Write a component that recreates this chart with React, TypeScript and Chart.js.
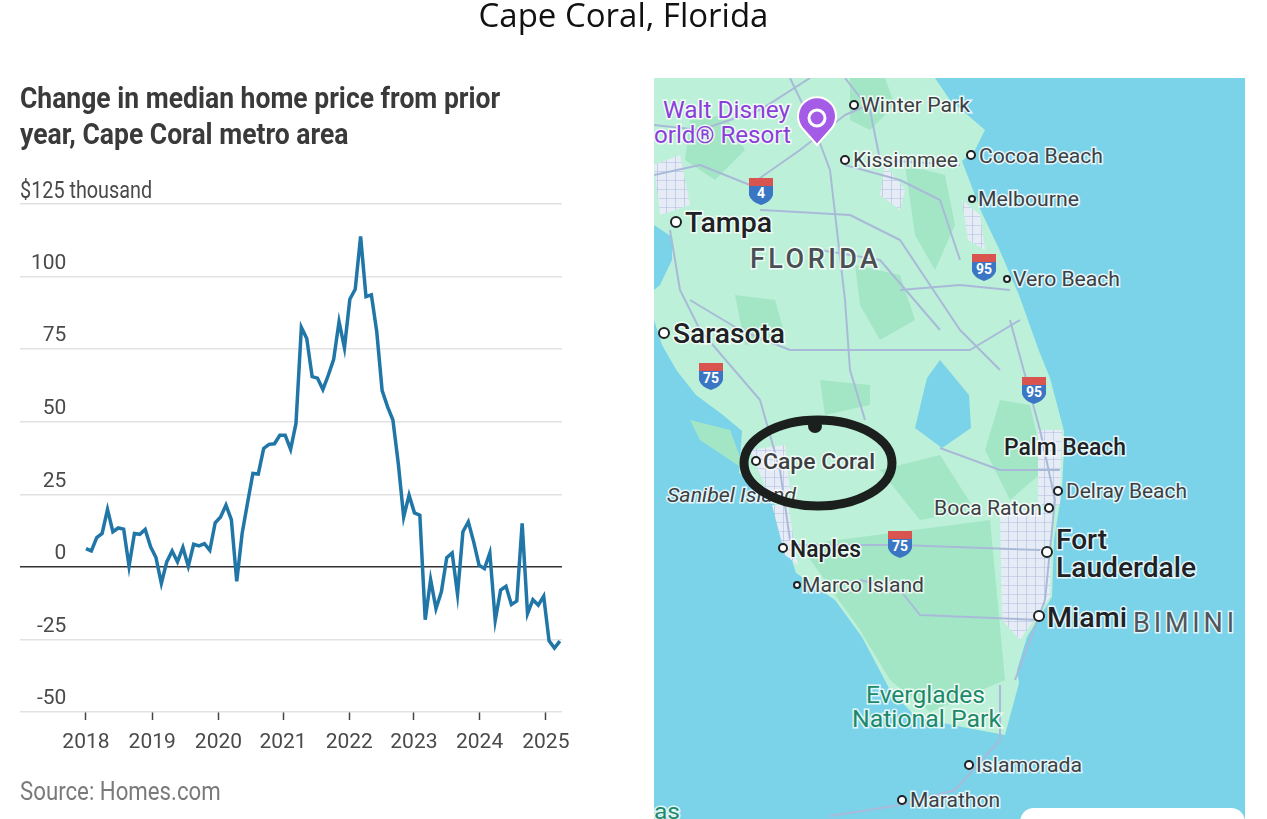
import React, { useEffect, useRef } from "react";
import { Chart, registerables } from "chart.js";

Chart.register(...registerables);

const yearLabels = ["2018", "2019", "2020", "2021", "2022", "2023", "2024", "2025"];
const yearTickMonths = [0, 12.3, 24.6, 36.6, 48.9, 60.9, 73.1, 85.4];
const yTicks = [-50, -25, 0, 25, 50, 75, 100, 125];
const priceChange = [
  6.3, 5.5, 10.1, 11.5, 19.8, 12.1, 13.4, 13.0, 0.2, 11.5, 11.2, 12.9,
  6.9, 3.2, -5.7, 1.7, 5.5, 1.7, 6.7, 0.2, 7.8, 7.2, 8.0, 5.7,
  15.2, 17.2, 21.3, 16.3, -5.0, 11.5, 22, 32.2, 32, 40.8, 42.2, 42.4,
  45.3, 45.3, 40.5, 49.4, 82.5, 78.7, 65.5, 65, 61.1, 66, 71.5, 84.5,
  75.5, 92.2, 95.6, 113.8, 93.1, 93.7, 81, 60.7, 55.2, 50.6, 35.6, 17.2,
  24.7, 18.6, 17.8, -18.2, -4.4, -14.4, -8.6, 3.2, 4.8, -9.4, 12.1, 15.5,
  8.6, 0.6, -0.6, 4.8, -18.4, -8, -6.7, -13, -11.8, 15, -16.1, -11.3,
  -13.2, -10.1, -25.5, -28, -25.6,
];

const sans = "Roboto, sans-serif";

const land = "654,78 935,78 950,100 985,130 975,150 962,161 981,211 1000,251 1019,295 1039,351 1050,378 1064,431 1064,450 1062,490 1054,540 1052,597 1027,637 1017,670 1019,683 1005,735 962,727 916,717 890,690 862,637 835,600 796,573 781,527 773,500 739,473 742,431 723,415 696,395 677,371 662,345 654,320 654,290 660,285 672,260 672,237 654,225";
const lake = "940,360 969,395 971,428 942,448 915,428 927,378";
const greenPatches = [
  "850,78 885,78 895,105 870,130 850,120",
  "690,120 725,115 745,150 715,180 685,160",
  "905,165 945,175 955,225 935,270 915,235",
  "855,265 900,275 915,320 880,340 860,305",
  "1000,400 1030,405 1045,470 1010,500 985,450",
  "880,470 940,455 975,510 920,520",
  "800,545 990,520 1005,680 930,712 890,680 860,630",
  "735,295 775,300 785,335 745,345",
  "820,380 870,385 870,405 825,415",
  "690,420 730,430 745,470 700,440",
];
const urbanPatches = [
  "654,165 680,155 690,205 660,215",
  "885,165 905,190 900,210 880,195",
  "962,200 980,215 985,250 968,240",
  "1000,510 1052,510 1050,597 1020,640 1002,620",
  "1038,430 1062,430 1060,505 1038,505",
  "750,450 785,445 790,490 770,498",
  "772,505 788,505 798,565 785,555",
];
const roads = [
  "654,175 700,165 750,185 800,150 845,115 880,100",
  "790,78 815,130 830,170 845,300 850,370 865,420",
  "845,165 900,180 940,200 960,260",
  "760,210 850,215 900,240 960,330 1000,370",
  "670,230 680,290 700,330 760,400 780,470 790,540",
  "690,300 740,330 790,350 970,350 1020,320",
  "820,250 880,260 940,330",
  "790,545 900,545 1040,550",
  "860,580 900,590 920,615 1040,620",
  "1010,320 1040,430 1055,500 1045,600 1015,680",
  "1000,685 1000,740 955,790 900,805 830,816",
  "940,448 1000,470 1060,470",
  "654,125 700,130 760,110 810,78",
  "845,78 870,110 880,160 960,165",
  "900,290 960,285 1010,290",
];
const mapLabels = [
  { text: "Winter Park", x: 861, y: 112, w: 109, s: 20, c: "#3c4043", dot: [854, 105, 4] },
  { text: "Kissimmee", x: 853, y: 167, w: 105, s: 20, c: "#3c4043", dot: [845, 160, 4] },
  { text: "Cocoa Beach", x: 979, y: 163, w: 124, s: 20, c: "#3c4043", dot: [971, 155, 4] },
  { text: "Melbourne", x: 978, y: 206, w: 101, s: 20, c: "#3c4043", dot: [972, 199, 3] },
  { text: "Tampa", x: 685, y: 232, w: 87, s: 27, c: "#202124", dot: [676, 222, 5], wt: 500 },
  { text: "Vero Beach", x: 1013, y: 286, w: 107, s: 20, c: "#3c4043", dot: [1007, 279, 3] },
  { text: "Sarasota", x: 673, y: 343, w: 112, s: 27, c: "#202124", dot: [664, 333, 5], wt: 500 },
  { text: "Palm Beach", x: 1004, y: 455, w: 122, s: 23, c: "#202124", wt: 500 },
  { text: "Cape Coral", x: 763, y: 469, w: 112, s: 22, c: "#3c4043", dot: [756, 461, 4], wt: 500 },
  { text: "Delray Beach", x: 1066, y: 498, w: 121, s: 20, c: "#3c4043", dot: [1058, 491, 4] },
  { text: "Boca Raton", x: 934, y: 515, w: 108, s: 20, c: "#3c4043", dot: [1049, 508, 4] },
  { text: "Naples", x: 790, y: 557, w: 71, s: 23, c: "#202124", dot: [783, 548, 4], wt: 500 },
  { text: "Marco Island", x: 802, y: 592, w: 122, s: 20, c: "#3c4043", dot: [797, 585, 3] },
  { text: "Fort", x: 1056, y: 549, w: 51, s: 28, c: "#202124", dot: [1047, 552, 5], wt: 500 },
  { text: "Lauderdale", x: 1056, y: 577, w: 140, s: 28, c: "#202124", wt: 500 },
  { text: "Miami", x: 1047, y: 627, w: 80, s: 28, c: "#202124", dot: [1039, 616, 5], wt: 500 },
  { text: "BIMINI", x: 1133, y: 632, w: 101, s: 27, c: "#50555a", spaced: true },
  { text: "FLORIDA", x: 750, y: 268, w: 128, s: 27, c: "#4a4f54", wt: 500, spaced: true },
  { text: "Everglades", x: 866, y: 703, w: 119, s: 23, c: "#1c8a68" },
  { text: "National Park", x: 852, y: 727, w: 149, s: 23, c: "#1c8a68" },
  { text: "Islamorada", x: 976, y: 772, w: 106, s: 20, c: "#3c4043", dot: [969, 765, 4] },
  { text: "Marathon", x: 910, y: 807, w: 90, s: 20, c: "#3c4043", dot: [902, 800, 4] },
  { text: "Walt Disney", x: 663, y: 118, w: 127, s: 24, c: "#8b3fd9" },
  { text: "orld® Resort", x: 654, y: 143, w: 137, s: 24, c: "#8b3fd9" },
  { text: "as", x: 654, y: 819, w: 26, s: 22, c: "#1c8a68" },
];
const shields = [
  { n: "4", x: 761, y: 191 },
  { n: "95", x: 984, y: 267 },
  { n: "95", x: 1034, y: 390 },
  { n: "75", x: 711, y: 376 },
  { n: "75", x: 900, y: 544 },
];

function MapPanel() {
  return (
    <svg width={1267} height={819} style={{ position: "absolute", left: 0, top: 0 }}>
      <defs>
        <clipPath id="mapclip"><rect x={654} y={78} width={591} height={741} /></clipPath>
        <pattern id="citygrid" width={9} height={9} patternUnits="userSpaceOnUse">
          <rect width={9} height={9} fill="#e6ecf6" />
          <path d="M0 0 H9 M0 0 V9" stroke="#aebbdf" strokeWidth={1.2} />
        </pattern>
      </defs>
      <g clipPath="url(#mapclip)">
        <rect x={654} y={78} width={591} height={741} fill="#7ad3e9" />
        <polygon points={land} fill="#bdf0d8" />
        {greenPatches.map((p, i) => <polygon key={i} points={p} fill="#a3e6c5" />)}
        {urbanPatches.map((p, i) => <polygon key={i} points={p} fill="url(#citygrid)" />)}
        <polygon points={lake} fill="#7ad3e9" />
        {roads.map((p, i) => <polyline key={i} points={p} fill="none" stroke="#a9bad9" strokeWidth={2} strokeLinejoin="round" />)}
        <rect x={1020} y={808} width={225} height={30} rx={14} fill="#ffffff" />
        <path d="M817 145 L802 128 A19 19 0 1 1 832 128 Z" fill="#a45ce6" stroke="#ffffff" strokeWidth={2} />
        <circle cx={817} cy={118} r={8} fill="none" stroke="#ffffff" strokeWidth={3} />
        {shields.map((s, i) => (
          <g key={i}>
            <rect x={s.x - 12} y={s.y - 13} width={24} height={8} fill="#d9534f" />
            <path d={`M${s.x - 12} ${s.y - 5} H${s.x + 12} V${s.y + 4} Q${s.x + 10} ${s.y + 11} ${s.x} ${s.y + 14} Q${s.x - 10} ${s.y + 11} ${s.x - 12} ${s.y + 4} Z`} fill="#3a76c4" />
            <text x={s.x} y={s.y + 7} textAnchor="middle" fontFamily="Roboto" fontWeight={700} fontSize={14} fill="#ffffff">{s.n}</text>
          </g>
        ))}
        {mapLabels.map((l, i) => (
          <g key={i}>
            {l.dot && <circle cx={l.dot[0]} cy={l.dot[1]} r={l.dot[2]} fill="#ffffff" stroke="#202124" strokeWidth={2} />}
            <text x={l.x} y={l.y} fontFamily="Roboto" fontSize={l.s} fontWeight={l.wt || 400} fill={l.c}
              textLength={l.w} lengthAdjust={l.spaced ? "spacing" : "spacingAndGlyphs"}
              stroke="#ffffff" strokeWidth={3} strokeOpacity={0.8} style={{ paintOrder: "stroke" }}>{l.text}</text>
          </g>
        ))}
        <text x={667} y={502} fontFamily="Roboto" fontStyle="italic" fontSize={20} fill="#3c4043" textLength={129}
          lengthAdjust="spacingAndGlyphs" stroke="#ffffff" strokeWidth={3} strokeOpacity={0.8} style={{ paintOrder: "stroke" }}>Sanibel Island</text>
        <ellipse cx={818} cy={463} rx={74} ry={43} fill="none" stroke="#1b1f1e" strokeWidth={9} />
        <circle cx={815} cy={426} r={7} fill="#1b1f1e" />
      </g>
    </svg>
  );
}

function Squeezed({ x, top, sx, size, weight, color, line, children }: any) {
  return (
    <div style={{ position: "absolute", left: x, top, fontFamily: sans, fontWeight: weight, fontSize: size, lineHeight: line, color, whiteSpace: "pre", transform: `scaleX(${sx})`, transformOrigin: "left top" }}>
      {children}
    </div>
  );
}

export default function App() {
  const ref = useRef<HTMLCanvasElement | null>(null);
  useEffect(() => {
    if (!ref.current) return;
    const chart = new Chart(ref.current, {
      type: "line",
      data: {
        datasets: [{
          data: priceChange.map((v, i) => ({ x: i, y: v })),
          borderColor: "#2176a8",
          borderWidth: 3.5,
          pointRadius: 0,
          tension: 0,
          clip: false,
        }],
      },
      options: {
        animation: false,
        responsive: false,
        parsing: false,
        layout: { padding: { left: 20, right: 78, top: 204, bottom: 67 } },
        plugins: { legend: { display: false }, tooltip: { enabled: false }, title: { display: false } },
        scales: {
          x: {
            type: "linear",
            min: -12.25,
            max: 88.4,
            afterBuildTicks: (s: any) => { s.ticks = yearTickMonths.map((value) => ({ value })); },
            afterFit: (s: any) => { s.height = 40; },
            border: { display: false },
            grid: { drawOnChartArea: false, drawTicks: true, tickLength: 8, tickColor: "#444444", tickWidth: 1.5 },
            ticks: {
              autoSkip: false,
              maxRotation: 0,
              padding: 10,
              color: "#4a4a4a",
              font: { family: sans, size: 21 },
              callback: (_v: any, i: number) => yearLabels[i],
            },
          },
          y: {
            min: -50,
            max: 125,
            afterBuildTicks: (s: any) => { s.ticks = yTicks.map((value) => ({ value })); },
            afterFit: (s: any) => { s.width = 0; },
            border: { display: false },
            grid: {
              drawTicks: false,
              lineWidth: 1.5,
              color: (c: any) => (c.tick && c.tick.value === 0 ? "#333333" : "#e2e2e2"),
            },
            ticks: {
              mirror: true,
              crossAlign: "far",
              padding: 11,
              labelOffset: -13,
              color: "#4a4a4a",
              font: { family: sans, size: 21 },
              callback: (v: any) => (v === 125 ? "" : String(v)),
            },
          },
        },
      },
    } as any);
    return () => chart.destroy();
  }, []);

  return (
    <div style={{ position: "absolute", left: 0, top: 0, width: 1267, height: 819, overflow: "hidden", background: "#ffffff" }}>
      <MapPanel />
      <canvas ref={ref} width={640} height={819} style={{ position: "absolute", left: 0, top: 0, width: 640, height: 819 }} />
      <div style={{ position: "absolute", left: 0, width: 1247, top: -6, textAlign: "center", fontFamily: "'Open Sans', sans-serif", fontSize: 33, color: "#111111", lineHeight: "42px" }}>
        Cape Coral, Florida
      </div>
      <Squeezed x={20} top={80} sx={0.914} size={29} weight={700} line="36px" color="#3a3a3a">
        {"Change in median home price from prior\nyear, Cape Coral metro area"}
      </Squeezed>
      <Squeezed x={20} top={175} sx={0.825} size={24} weight={400} line="30px" color="#4a4a4a">
        $125 thousand
      </Squeezed>
      <Squeezed x={20} top={776} sx={0.855} size={26} weight={400} line="30px" color="#7a7a7a">
        Source: Homes.com
      </Squeezed>
    </div>
  );
}
